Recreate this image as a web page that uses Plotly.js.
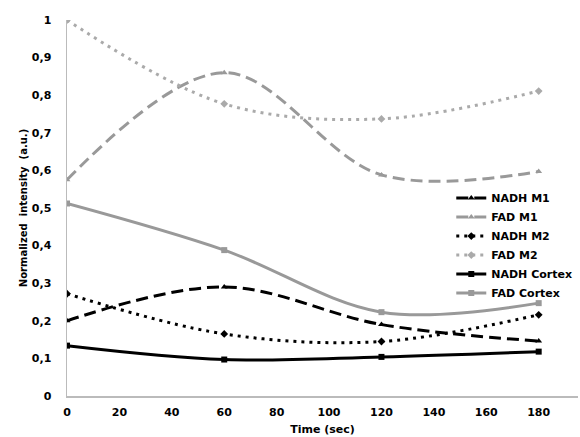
<!DOCTYPE html>
<html><head><meta charset="utf-8">
<script src="https://cdn.plot.ly/plotly-3.0.1.min.js"></script>
<style>html,body{margin:0;padding:0;background:#fff}#chart{width:580px;height:437px}</style>
</head><body><div id="chart"></div>
<script>
var time = [0, 60, 120, 180];
var nadhM1 = [0.20, 0.29, 0.19, 0.146];
var fadM1 = [0.575, 0.86, 0.588, 0.597];
var nadhM2 = [0.272, 0.165, 0.145, 0.216];
var fadM2 = [1.0, 0.777, 0.737, 0.811];
var nadhCortex = [0.134, 0.097, 0.104, 0.118];
var fadCortex = [0.512, 0.388, 0.223, 0.247];
var xTicks = [0, 20, 40, 60, 80, 100, 120, 140, 160, 180];
var yTicks = [0, 0.1, 0.2, 0.3, 0.4, 0.5, 0.6, 0.7, 0.8, 0.9, 1];
var yTickText = ['0', '0,1', '0,2', '0,3', '0,4', '0,5', '0,6', '0,7', '0,8', '0,9', '1'];

function tr(name, y, color, dash, width, symbol) {
  return {x: time, y: y, name: '<b>' + name + '</b>', type: 'scatter', mode: 'lines+markers',
    line: {color: color, width: width, dash: dash, shape: 'spline', smoothing: 1},
    marker: {color: color, symbol: symbol, size: 6}};
}
var data = [
  tr('NADH M1', nadhM1, '#000000', '12px,6px', 3, 'triangle-up'),
  tr('FAD M1', fadM1, '#999999', '12px,6px', 3, 'triangle-up'),
  tr('NADH M2', nadhM2, '#000000', '3px,5px', 3, 'diamond'),
  tr('FAD M2', fadM2, '#aaaaaa', '3px,5px', 3, 'diamond'),
  tr('NADH Cortex', nadhCortex, '#000000', 'solid', 3, 'square'),
  tr('FAD Cortex', fadCortex, '#999999', 'solid', 3, 'square')
];
var F = 'DejaVu Sans, Verdana, sans-serif';
var layout = {
  width: 580, height: 437,
  margin: {l: 67, r: 2, t: 20, b: 41},
  paper_bgcolor: '#fff', plot_bgcolor: '#fff',
  font: {family: F, color: '#000', size: 11},
  showlegend: true,
  legend: {x: 0.752, y: 0.565, xanchor: 'left', yanchor: 'top', bgcolor: 'rgba(0,0,0,0)',
    font: {family: F, size: 11, color: '#000'}, tracegroupgap: 0, itemwidth: 30},
  xaxis: {range: [0, 195], tickvals: xTicks, ticktext: xTicks.map(function(v){return '<b>'+v+'</b>';}),
    showgrid: false, zeroline: false, showline: true, linecolor: '#bbbbbb', linewidth: 1.5,
    ticks: 'outside', ticklen: 5, tickcolor: 'rgba(0,0,0,0)', tickfont: {family: F, size: 11}, automargin: false,
    title: {text: '<b>Time (sec)</b>', font: {family: F, size: 11}, standoff: 7}},
  yaxis: {range: [0, 1], tickvals: yTicks, ticktext: yTickText.map(function(v){return '<b>'+v+'</b>';}),
    showgrid: false, zeroline: false, showline: true, linecolor: '#bbbbbb', linewidth: 1.5,
    ticks: 'outside', ticklen: 12, tickcolor: 'rgba(0,0,0,0)', tickfont: {family: F, size: 11}, automargin: false,
    title: {text: '<b>Normalized  intensity  (a.u.)</b>', font: {family: F, size: 10}, standoff: 2}}
};
Plotly.newPlot('chart', data, layout, {displayModeBar: false, staticPlot: true});
</script></body></html>
